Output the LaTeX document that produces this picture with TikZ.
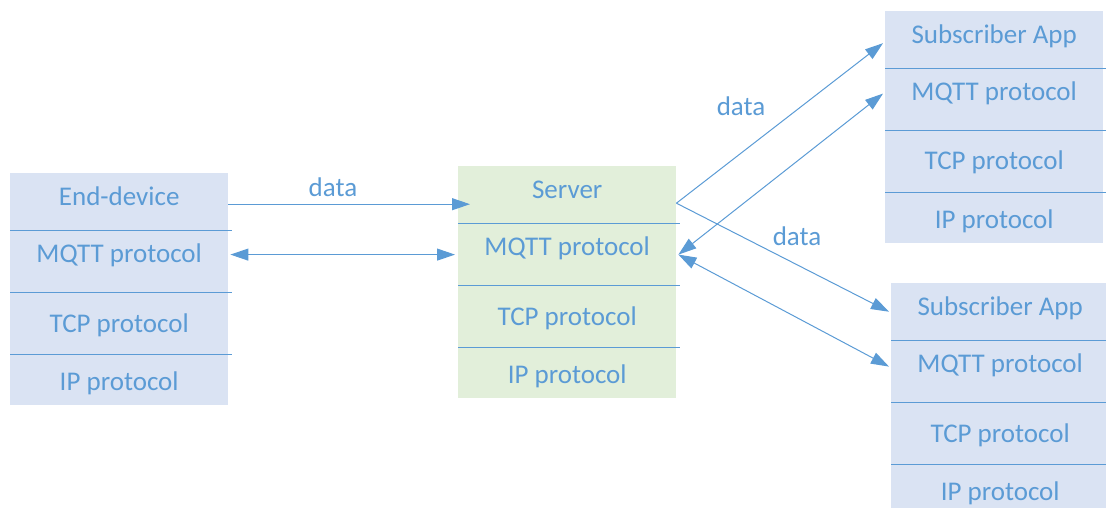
\documentclass[tikz,border=0pt]{standalone}
\usepackage{fontspec}
\setmainfont{Carlito}
\usetikzlibrary{arrows.meta,positioning}
\definecolor{msblue}{HTML}{5B9BD5}
\definecolor{devfill}{HTML}{DAE3F3}
\definecolor{srvfill}{HTML}{E2EFDA}
\tikzset{%
	layer/.style    = {rectangle, minimum width=218pt, inner sep=0pt, anchor=north west, text=msblue, font=\fontsize{27}{32}\selectfont, text height=17pt, text depth=0pt},
	dev/.style      = {layer, fill=devfill},
	srv/.style      = {layer, fill=srvfill},
	head/.style     = {minimum height=57pt, text depth=9pt},
	mqtt/.style     = {minimum height=62pt, text depth=15pt},
	tcp/.style      = {minimum height=61pt},
	ip/.style       = {minimum height=51pt, text height=22pt},
	sep/.style      = {msblue, line width=1pt},
	lbl/.style      = {text=msblue, font=\fontsize{27}{32}\selectfont},
	arrow/.style    = {msblue, line width=1pt, -{Triangle[length=18pt,width=12pt]}},
	dblarrow/.style = {msblue, line width=1pt, {Triangle[length=18pt,width=12pt]}-{Triangle[length=18pt,width=12pt]}},
}
\begin{document}
\begin{tikzpicture}[x=1pt,y=-1pt]
	\useasboundingbox (0,0) rectangle (1106,508);
	\clip (0,0) rectangle (1106,508);
	% end-device stack
	\node[dev,head] (ed1) at (10,173) {End-device};
	\node[dev,mqtt,below=0pt of ed1] (ed2) {MQTT protocol};
	\node[dev,tcp,below=0pt of ed2] (ed3) {TCP protocol};
	\node[dev,ip,below=0pt of ed3] (ed4) {IP protocol};
	% server stack
	\node[srv,head] (srv1) at (458,166) {Server};
	\node[srv,mqtt,below=0pt of srv1] (srv2) {MQTT protocol};
	\node[srv,tcp,below=0pt of srv2] (srv3) {TCP protocol};
	\node[srv,ip,below=0pt of srv3] (srv4) {IP protocol};
	% subscriber stacks
	\node[dev,head] (suba1) at (885,11) {Subscriber App};
	\node[dev,mqtt,below=0pt of suba1] (suba2) {MQTT protocol};
	\node[dev,tcp,below=0pt of suba2] (suba3) {TCP protocol};
	\node[dev,ip,below=0pt of suba3] (suba4) {IP protocol};
	\node[dev,head] (subb1) at (891,283) {Subscriber App};
	\node[dev,mqtt,below=0pt of subb1] (subb2) {MQTT protocol};
	\node[dev,tcp,below=0pt of subb2] (subb3) {TCP protocol};
	\node[dev,ip,below=0pt of subb3] (subb4) {IP protocol};
	% layer borders
	\foreach \s in {ed,srv,suba,subb}{
		\foreach \i in {1,2,3}{
			\draw[sep] (\s\i.south west) -- ([xshift=4pt]\s\i.south east);
		}
	}
	% connections
	\draw[arrow] ([yshift=-2.5pt]ed1.east) -- ([xshift=12pt,yshift=-2.5pt]ed1.east -| srv1.west);
	\draw[dblarrow] ([xshift=2pt,yshift=7pt]ed2.east) -- ([xshift=-3pt,yshift=7pt]ed2.east -| srv2.west);
	\coordinate (out) at ([yshift=-8.5pt]srv1.east);
	\draw[arrow] (out) -- ([xshift=-2pt,yshift=-3.5pt]suba1.west);
	\draw[arrow] (out) -- ([xshift=-2pt]subb1.west);
	\draw[dblarrow] ([xshift=2pt]srv2.east) -- ([xshift=-2pt,yshift=6pt]suba2.west);
	\draw[dblarrow] ([xshift=2pt]srv2.east) -- ([xshift=-2pt,yshift=5pt]subb2.west);
	\node[lbl] (d1) at (333,187) {data};
	\node[lbl] (d2) at (741,106) {data};
	\node[lbl] (d3) at (797,236) {data};
\end{tikzpicture}
\end{document}
